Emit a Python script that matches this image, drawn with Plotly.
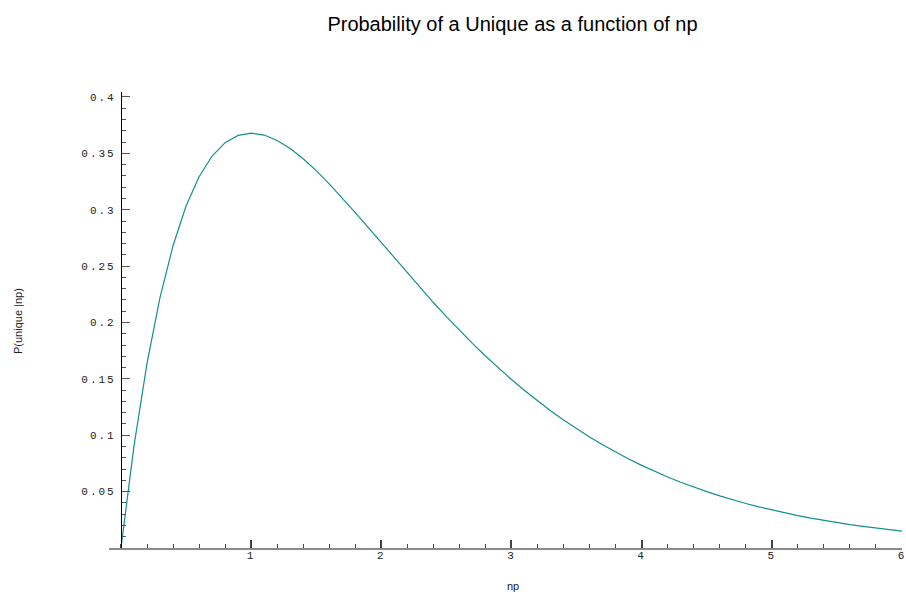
import plotly.graph_objects as go

# Values (np, P(unique | np))
np_values = [0.0, 0.1, 0.2, 0.3, 0.4, 0.5, 0.6, 0.7, 0.8, 0.9,
             1.0, 1.1, 1.2, 1.3, 1.4, 1.5, 1.6, 1.7, 1.8, 1.9,
             2.0, 2.1, 2.2, 2.3, 2.4, 2.5, 2.6, 2.7, 2.8, 2.9,
             3.0, 3.1, 3.2, 3.3, 3.4, 3.5, 3.6, 3.7, 3.8, 3.9,
             4.0, 4.1, 4.2, 4.3, 4.4, 4.5, 4.6, 4.7, 4.8, 4.9,
             5.0, 5.1, 5.2, 5.3, 5.4, 5.5, 5.6, 5.7, 5.8, 5.9, 6.0]
p_unique = [0.0, 0.0905, 0.1637, 0.2222, 0.2681, 0.3033, 0.3293, 0.3476, 0.3595, 0.3659,
            0.3679, 0.3662, 0.3614, 0.3543, 0.3452, 0.3347, 0.3230, 0.3106, 0.2975, 0.2842,
            0.2707, 0.2572, 0.2438, 0.2306, 0.2177, 0.2052, 0.1931, 0.1815, 0.1703, 0.1596,
            0.1494, 0.1397, 0.1304, 0.1217, 0.1135, 0.1057, 0.0984, 0.0915, 0.0850, 0.0790,
            0.0733, 0.0679, 0.0630, 0.0583, 0.0540, 0.0500, 0.0462, 0.0427, 0.0395, 0.0365,
            0.0337, 0.0311, 0.0287, 0.0265, 0.0244, 0.0225, 0.0207, 0.0191, 0.0176, 0.0162, 0.0149]

x_tick_vals = [1, 2, 3, 4, 5, 6]
x_tick_text = ["1", "2", "3", "4", "5", "6"]
y_tick_vals = [0.05, 0.1, 0.15, 0.2, 0.25, 0.3, 0.35, 0.4]
y_tick_text = ["0.05", "0.1", "0.15", "0.2", "0.25", "0.3", "0.35", "0.4"]

title_text = "Probability of a Unique as a function of np"
x_title = "np"
y_title = "P(unique |np)"

W, H = 906, 594
L, R, T, B = 109, 4, 92, 46
pw, ph = W - L - R, H - T - B

def px_x(px):
    return (px - L) / pw

def px_y(py):
    return (H - B - py) / ph

fig = go.Figure()
fig.add_trace(go.Scatter(x=np_values, y=p_unique, mode="lines",
                         line=dict(color="#138f8f", width=1.2),
                         showlegend=False, hoverinfo="skip"))

mono = dict(family="Liberation Mono, Courier New, monospace", size=11, color="#222")

fig.update_layout(
    width=W, height=H,
    margin=dict(l=L, r=R, t=T, b=B, pad=0),
    paper_bgcolor="white", plot_bgcolor="white",
    template="none",
    title=dict(text=title_text, x=512.5 / W, xref="container", xanchor="center",
               y=1 - 24 / H, yref="container", yanchor="middle",
               font=dict(family="Liberation Sans, Arial, sans-serif", size=20, color="black")),
    xaxis=dict(range=[-0.092, 6.0], showgrid=False, zeroline=False,
               showline=True, linecolor="#8a8a8a", linewidth=1.5,
               tickmode="array", tickvals=x_tick_vals, ticktext=x_tick_text,
               ticks="inside", ticklen=8, tickwidth=1.5, tickcolor="#444",
               tickfont=mono, ticklabelstandoff=-4,
               minor=dict(tickmode="linear", tick0=0, dtick=0.2, ticks="inside",
                          ticklen=4, tickwidth=1, tickcolor="#444")),
    yaxis=dict(range=[0, 0.4044], showgrid=False, zeroline=False,
               anchor="free", position=px_x(121), side="left",
               showline=True, linecolor="black", linewidth=1.2,
               tickmode="array", tickvals=y_tick_vals, ticktext=y_tick_text,
               ticks="inside", ticklen=8, tickwidth=1, tickcolor="#555",
               tickfont=mono, ticklabelstandoff=3,
               minor=dict(tickmode="linear", tick0=0, dtick=0.01, ticks="inside",
                          ticklen=4, tickwidth=1, tickcolor="#555")),
    annotations=[
        dict(text=x_title, xref="paper", yref="paper", x=px_x(512.5), y=px_y(586),
             xanchor="center", yanchor="middle", showarrow=False,
             font=dict(family="Liberation Sans, Arial, sans-serif", size=11, color="#222")),
        dict(text=y_title, xref="paper", yref="paper", x=px_x(18), y=px_y(321),
             xanchor="center", yanchor="middle", showarrow=False, textangle=-90,
             font=dict(family="Liberation Sans, Arial, sans-serif", size=11, color="#222")),
    ],
)

post = """
document.body.style.margin = '0';
document.body.style.padding = '0';
var st = document.createElement('style');
st.textContent = '.ytick text, .xtick text { letter-spacing: 2px; }';
document.head.appendChild(st);
"""

fig.write_html("out.html", post_script=post, config={"displayModeBar": False})
